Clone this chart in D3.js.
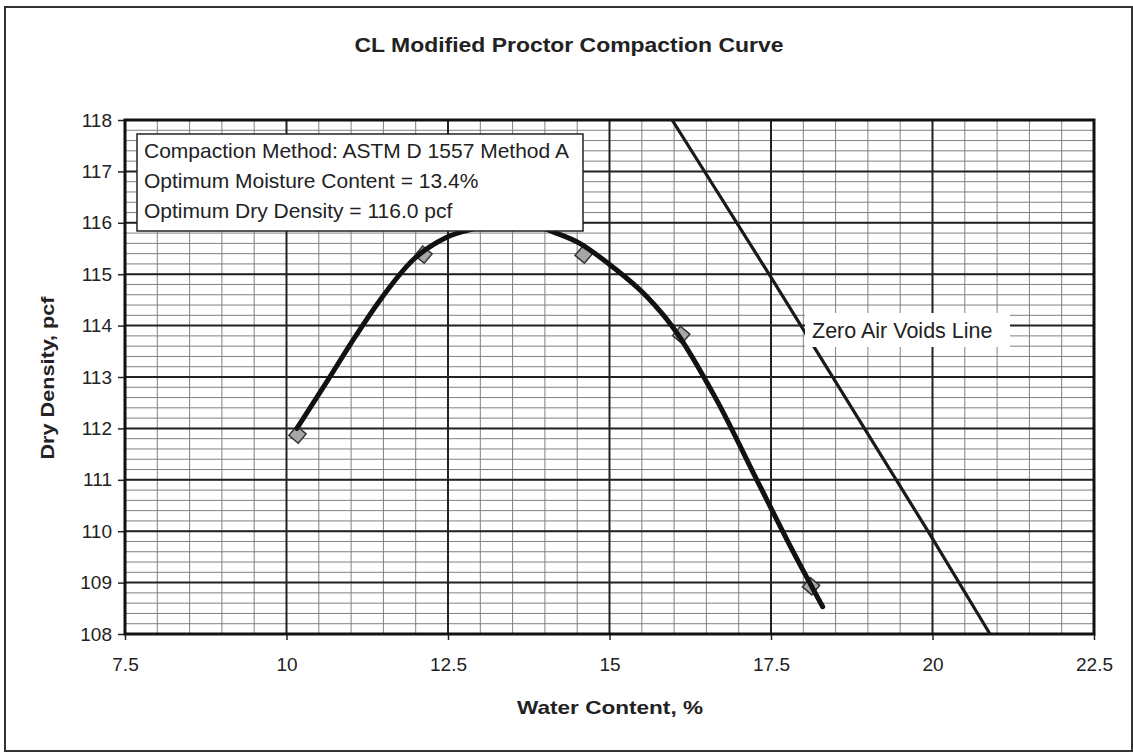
<!DOCTYPE html>
<html><head><meta charset="utf-8">
<script src="https://cdn.jsdelivr.net/npm/d3@7"></script>
<style>body{margin:0;background:#fff}svg{display:block}text{font-family:Arial,"Liberation Sans",sans-serif;fill:#222}</style>
</head><body>
<svg id="c" width="1133" height="753"></svg>
<script>
const titleText = "CL Modified Proctor Compaction Curve";
const xLabel = "Water Content, %";
const yLabel = "Dry Density, pcf";
const xTicks = [7.5, 10, 12.5, 15, 17.5, 20, 22.5];
const yTicks = [108, 109, 110, 111, 112, 113, 114, 115, 116, 117, 118];
// measured points
const pointsX = [10.17, 12.12, 14.6, 16.11, 18.12];
const pointsY = [111.88, 115.38, 115.38, 113.82, 108.93];
// fitted compaction curve
const curveX = [10.16, 10.63, 11.01, 11.45, 11.96, 12.48, 13.0, 13.15, 13.5, 13.82, 14.03, 14.54, 15.05, 15.58, 15.98, 16.66, 17.28, 17.79, 18.3];
const curveY = [112.0, 112.92, 113.68, 114.5, 115.28, 115.72, 115.92, 115.98, 116.0, 115.98, 115.87, 115.6, 115.14, 114.56, 113.97, 112.55, 111.0, 109.73, 108.53];
// zero air voids line
const zavX = [15.97, 17.47, 19.93, 20.89];
const zavY = [118, 115, 110, 108];
const infoLines = ["Compaction Method: ASTM D 1557 Method A", "Optimum Moisture Content = 13.4%", "Optimum Dry Density = 116.0 pcf"];
const zavLabel = "Zero Air Voids Line";

const svg = d3.select("#c");
const L = 125, R = 1094, T = 120, B = 634;
const x = d3.scaleLinear().domain([7.5, 22.5]).range([L, R]);
const y = d3.scaleLinear().domain([108, 118]).range([B, T]);

// outer border
svg.append("rect").attr("x", 5).attr("y", 7).attr("width", 1127).attr("height", 744)
  .attr("fill", "none").attr("stroke", "#333").attr("stroke-width", 2);

// minor grid
const minorX = d3.range(15 * 2 + 1).map(i => 7.5 + i * 0.5);
const minorY = d3.range(10 * 5 + 1).map(i => 108 + i * 0.2);
const g = svg.append("g");
g.selectAll(".mx").data(minorX).join("line").attr("x1", d => x(d)).attr("x2", d => x(d))
  .attr("y1", T).attr("y2", B).attr("stroke", "#808080").attr("stroke-width", 1);
g.selectAll(".my").data(minorY).join("line").attr("y1", d => y(d)).attr("y2", d => y(d))
  .attr("x1", L).attr("x2", R).attr("stroke", "#808080").attr("stroke-width", 1);
// major grid
g.selectAll(".Mx").data(xTicks).join("line").attr("x1", d => x(d)).attr("x2", d => x(d))
  .attr("y1", T).attr("y2", B).attr("stroke", "#222").attr("stroke-width", 2);
g.selectAll(".My").data(yTicks).join("line").attr("y1", d => y(d)).attr("y2", d => y(d))
  .attr("x1", L).attr("x2", R).attr("stroke", "#222").attr("stroke-width", 2);

// axes
const xAxis = d3.axisBottom(x).tickValues(xTicks).tickFormat(d => String(d)).tickSize(6).tickPadding(18);
const yAxis = d3.axisLeft(y).tickValues(yTicks).tickFormat(d3.format("d")).tickSize(7).tickPadding(6);
const gx = svg.append("g").attr("transform", `translate(0,${B})`).call(xAxis);
const gy = svg.append("g").attr("transform", `translate(${L},0)`).call(yAxis);
[gx, gy].forEach(a => {
  a.select(".domain").remove();
  a.selectAll("line").attr("stroke", "#222").attr("stroke-width", 1.5);
  a.selectAll("text").style("font-size", "19px").attr("fill", "#222");
});
// plot frame
svg.append("rect").attr("x", L).attr("y", T).attr("width", R - L).attr("height", B - T)
  .attr("fill", "none").attr("stroke", "#111").attr("stroke-width", 3);

// markers
const pts = pointsX.map((d, i) => [d, pointsY[i]]);
svg.selectAll(".pt").data(pts).join("path")
  .attr("d", d3.symbol().type(d3.symbolSquare).size(150))
  .attr("transform", d => `translate(${x(d[0])},${y(d[1])}) rotate(40)`)
  .attr("fill", "#a6a6a6").attr("stroke", "#333").attr("stroke-width", 1.5);

// zero air voids line
const zav = zavX.map((d, i) => [d, zavY[i]]);
svg.append("path").datum(zav)
  .attr("d", d3.line().x(d => x(d[0])).y(d => y(d[1])).curve(d3.curveMonotoneY))
  .attr("fill", "none").attr("stroke", "#1a1a1a").attr("stroke-width", 3.2);

// compaction curve
const cv = curveX.map((d, i) => [d, curveY[i]]);
svg.append("path").datum(cv)
  .attr("d", d3.line().x(d => x(d[0])).y(d => y(d[1])).curve(d3.curveMonotoneX))
  .attr("fill", "none").attr("stroke", "#111").attr("stroke-width", 5).attr("stroke-linecap", "round");

// ZAV label
svg.append("rect").attr("x", 805).attr("y", 313).attr("width", 205).attr("height", 34).attr("fill", "#fff");
svg.append("text").attr("x", 812).attr("y", 338).style("font-size", "21.5px").text(zavLabel);

// info box
svg.append("rect").attr("x", 137).attr("y", 134).attr("width", 446).attr("height", 97)
  .attr("fill", "#fff").attr("stroke", "#222").attr("stroke-width", 1.5);
svg.selectAll(".info").data(infoLines).join("text")
  .attr("x", 144).attr("y", (d, i) => 158 + i * 30).style("font-size", "21px").text(d => d);

// titles
svg.append("text").attr("x", 569).attr("y", 52).attr("text-anchor", "middle")
  .attr("textLength", 429).attr("lengthAdjust", "spacingAndGlyphs")
  .style("font-size", "20px").style("font-weight", "bold").text(titleText);
svg.append("text").attr("x", 610).attr("y", 714).attr("text-anchor", "middle")
  .attr("textLength", 186).attr("lengthAdjust", "spacingAndGlyphs")
  .style("font-size", "19px").style("font-weight", "bold").text(xLabel);
svg.append("text").attr("transform", "translate(54,378) rotate(-90)").attr("text-anchor", "middle")
  .attr("textLength", 163).attr("lengthAdjust", "spacingAndGlyphs")
  .style("font-size", "19px").style("font-weight", "bold").text(yLabel);
</script>
</body></html>
